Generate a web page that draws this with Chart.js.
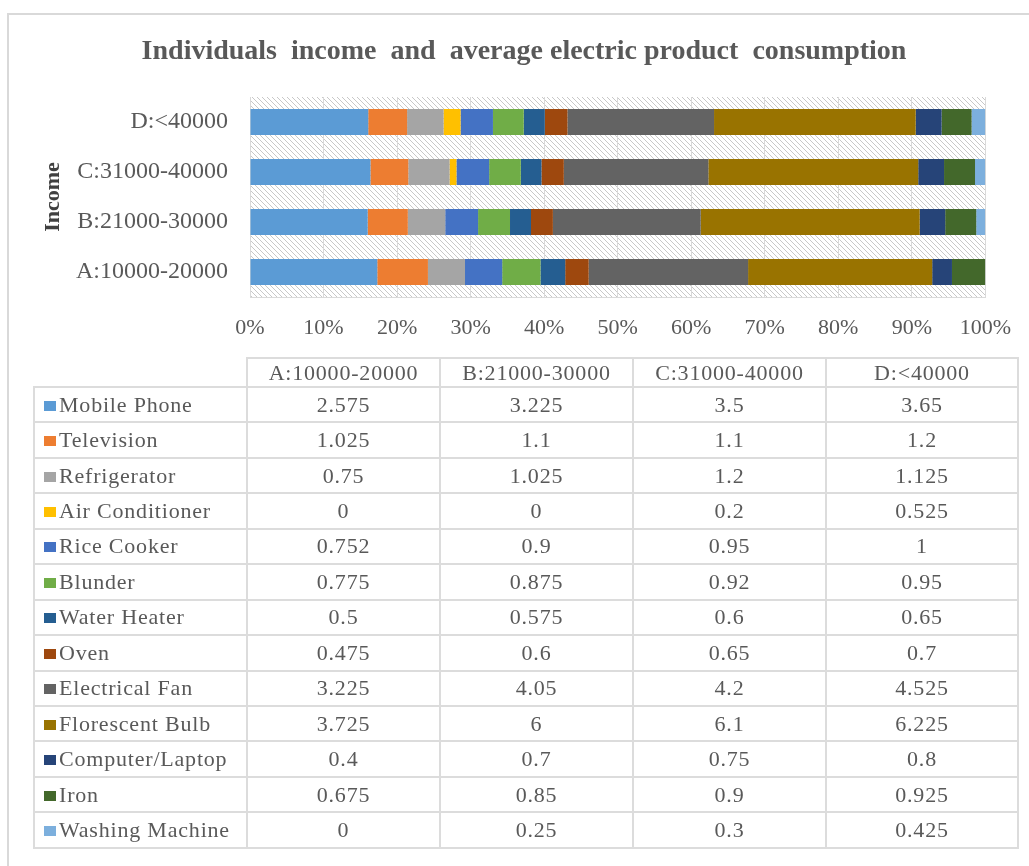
<!DOCTYPE html>
<html>
<head>
<meta charset="utf-8">
<script src="https://cdn.jsdelivr.net/npm/chart.js@4/dist/chart.umd.min.js"></script>
<style>
  html, body { margin:0; padding:0; background:#ffffff; }
  #wrap { position:relative; width:1029px; height:866px; overflow:hidden; }
  #c { position:absolute; left:0; top:0; }
  #tbl { position:absolute; left:33px; top:357px; border-collapse:collapse; table-layout:fixed; width:984px;
         font-family:"Liberation Serif","Times New Roman",serif; font-size:22px; color:#595959; letter-spacing:0.8px; }
  #tbl td { border:2px solid #dcdcdc; padding:0; text-align:center; white-space:nowrap; overflow:hidden; }
  #tbl tr.hdr { height:29px; }
  #tbl tr.row { height:35.45px; }
  #tbl td.blank { border-top:none; border-left:none; }
  #tbl td.name { text-align:left; padding-left:9px; }
  .key { display:inline-block; width:12px; height:10px; margin-right:3px; vertical-align:1px; }
</style>
</head>
<body>
<div id="wrap">
  <canvas id="c" width="1029" height="866"></canvas>
  <table id="tbl"></table>
</div>
<script>
// ---------- data ----------
const categories = ['A:10000-20000', 'B:21000-30000', 'C:31000-40000', 'D:<40000'];
const seriesNames = ['Mobile Phone', 'Television', 'Refrigerator', 'Air Conditioner', 'Rice Cooker', 'Blunder',
  'Water Heater', 'Oven', 'Electrical Fan', 'Florescent Bulb', 'Computer/Laptop', 'Iron', 'Washing Machine'];
const mobilePhone    = [2.575, 3.225, 3.5,   3.65];
const television     = [1.025, 1.1,   1.1,   1.2];
const refrigerator   = [0.75,  1.025, 1.2,   1.125];
const airConditioner = [0,     0,     0.2,   0.525];
const riceCooker     = [0.752, 0.9,   0.95,  1];
const blunder        = [0.775, 0.875, 0.92,  0.95];
const waterHeater    = [0.5,   0.575, 0.6,   0.65];
const oven           = [0.475, 0.6,   0.65,  0.7];
const electricalFan  = [3.225, 4.05,  4.2,   4.525];
const florescentBulb = [3.725, 6,     6.1,   6.225];
const computerLaptop = [0.4,   0.7,   0.75,  0.8];
const iron           = [0.675, 0.85,  0.9,   0.925];
const washingMachine = [0,     0.25,  0.3,   0.425];
const seriesColors = ['#5B9BD5', '#ED7D31', '#A5A5A5', '#FFC000', '#4472C4', '#70AD47',
  '#255E91', '#9E480E', '#636363', '#997300', '#264478', '#43682B', '#7CAFDD'];
const chartTitle = 'Individuals  income  and  average electric product  consumption';
const axisTitle = 'Income';

const seriesValues = [mobilePhone, television, refrigerator, airConditioner, riceCooker, blunder,
  waterHeater, oven, electricalFan, florescentBulb, computerLaptop, iron, washingMachine];

// 100% stacking
const totals = categories.map((_, j) => seriesValues.reduce((s, arr) => s + arr[j], 0));
const datasets = seriesNames.map((name, i) => ({
  label: name,
  data: seriesValues[i].map((v, j) => v / totals[j] * 100),
  backgroundColor: seriesColors[i],
  borderWidth: 0,
  barPercentage: 0.52,
  categoryPercentage: 1.0
}));

// ---------- hatch pattern ----------
function makeHatch() {
  const p = document.createElement('canvas');
  p.width = 5; p.height = 5;
  const g = p.getContext('2d');
  g.fillStyle = '#ffffff'; g.fillRect(0, 0, 5, 5);
  g.strokeStyle = '#c8c8c8'; g.lineWidth = 1;
  g.beginPath();
  g.moveTo(-1, -1); g.lineTo(6, 6);
  g.moveTo(-1, 4); g.lineTo(1, 6);
  g.moveTo(4, -1); g.lineTo(6, 1);
  g.stroke();
  return p;
}
const hatchCanvas = makeHatch();

const backgroundPlugin = {
  id: 'bg',
  beforeDraw(chart) {
    const ctx = chart.ctx;
    const a = chart.chartArea;
    ctx.save();
    ctx.fillStyle = '#ffffff';
    ctx.fillRect(0, 0, chart.width, chart.height);
    // outer frame
    ctx.strokeStyle = '#d9d9d9';
    ctx.lineWidth = 2;
    ctx.beginPath();
    ctx.moveTo(8, 866); ctx.lineTo(8, 14); ctx.lineTo(1029, 14);
    ctx.stroke();
    // hatched plot area
    ctx.fillStyle = ctx.createPattern(hatchCanvas, 'repeat');
    ctx.fillRect(a.left, a.top, a.right - a.left, a.bottom - a.top);
    ctx.restore();
  }
};

const serif = '"Liberation Serif", "Times New Roman", serif';

new Chart(document.getElementById('c'), {
  type: 'bar',
  data: { labels: categories, datasets },
  plugins: [backgroundPlugin],
  options: {
    indexAxis: 'y',
    responsive: false,
    animation: false,
    devicePixelRatio: 1,
    layout: { padding: { top: 0, left: 61, right: 42, bottom: 509 } },
    plugins: {
      legend: { display: false },
      tooltip: { enabled: false },
      title: {
        display: true,
        text: chartTitle,
        color: '#595959',
        font: { family: serif, size: 28, weight: 'bold', lineHeight: 1.2 },
        padding: { top: 35, bottom: 28.4 }
      }
    },
    scales: {
      x: {
        stacked: true,
        min: 0, max: 100,
        afterFit(s) { s.height = 60; },
        grid: { display: true, color: '#d9d9d9', lineWidth: 1, drawTicks: false },
        border: { display: true, color: '#d9d9d9', width: 1 },
        ticks: {
          stepSize: 10,
          padding: 18,
          color: '#595959',
          font: { family: serif, size: 22 },
          callback: v => v + '%'
        }
      },
      y: {
        stacked: true,
        reverse: true,
        afterFit(s) { s.width = 189; },
        grid: { display: false, drawTicks: false },
        border: { display: false },
        ticks: {
          padding: 22,
          color: '#595959',
          font: { family: serif, size: 24 }
        },
        title: {
          display: true,
          text: axisTitle,
          color: '#404040',
          font: { family: serif, size: 22, weight: 'bold', lineHeight: 1.2 },
          padding: { top: -20.7, bottom: 0 }
        }
      }
    }
  }
});

// ---------- data table ----------
const tbl = document.getElementById('tbl');
let html = '<colgroup><col style="width:213px"><col style="width:193px"><col style="width:193px"><col style="width:193px"><col style="width:192px"></colgroup>';
html += '<tr class="hdr"><td class="blank"></td>' + categories.map(c => '<td>' + c.replace('<', '&lt;') + '</td>').join('') + '</tr>';
seriesNames.forEach((name, i) => {
  html += '<tr class="row"><td class="name"><span class="key" style="background:' + seriesColors[i] + '"></span>' + name + '</td>' +
    seriesValues[i].map(v => '<td>' + String(v) + '</td>').join('') + '</tr>';
});
tbl.innerHTML = html;
</script>
</body>
</html>
